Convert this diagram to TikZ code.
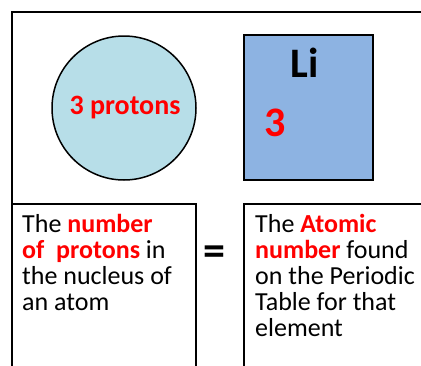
\documentclass[tikz,border=0pt]{standalone}
\usepackage{fontspec}
\setmainfont{Carlito}
\definecolor{txtred}{RGB}{255,0,0}
\definecolor{nucleus}{RGB}{183,222,232}
\definecolor{tile}{RGB}{141,179,226}
\newcommand{\hl}[1]{\textcolor{txtred}{\bfseries #1}}
\begin{document}
\begin{tikzpicture}[x=1pt,y=-1pt,
  frame/.style={draw=black,line width=2pt},
  boxtext/.style={anchor=north west,align=left,inner sep=0pt,font=\fontsize{26}{26}\selectfont}]
\useasboundingbox (0,0) rectangle (421,365);
\clip (0,0) rectangle (421,365);
\draw[frame] (12,12) rectangle (440,390);
\node[draw=black,line width=1.5pt,fill=nucleus,circle,minimum size=144pt,inner sep=0pt] (nuc) at (124,108) {};
\node[text=txtred,font=\bfseries\fontsize{28}{30}\selectfont] (protons) at (125,108) {3 protons};
\node[draw=black,line width=2pt,fill=tile,minimum width=129pt,minimum height=145pt,inner sep=0pt] (li) at (308.5,107.5) {};
\node[font=\bfseries\fontsize{42}{44}\selectfont] (sym) at (305,63) {Li};
\node[text=txtred,font=\bfseries\fontsize{42}{44}\selectfont] (anum) at (275,123) {3};
\draw[line width=1.5pt] (12,204) rectangle (196,400);
\draw[line width=1.5pt] (244,204) rectangle (440,400);
\node[boxtext] (lefttext) at (22,214) {The \hl{number}\\ \hl{of\ \ protons} in\\ the nucleus of\\ an atom};
\node[font=\bfseries\fontsize{44}{46}\selectfont] (eq) at (214,256) {=};
\node[boxtext] (righttext) at (255,214) {The \hl{Atomic}\\ \hl{number} found\\ on the Periodic\\ Table for that\\ element};
\end{tikzpicture}
\end{document}
